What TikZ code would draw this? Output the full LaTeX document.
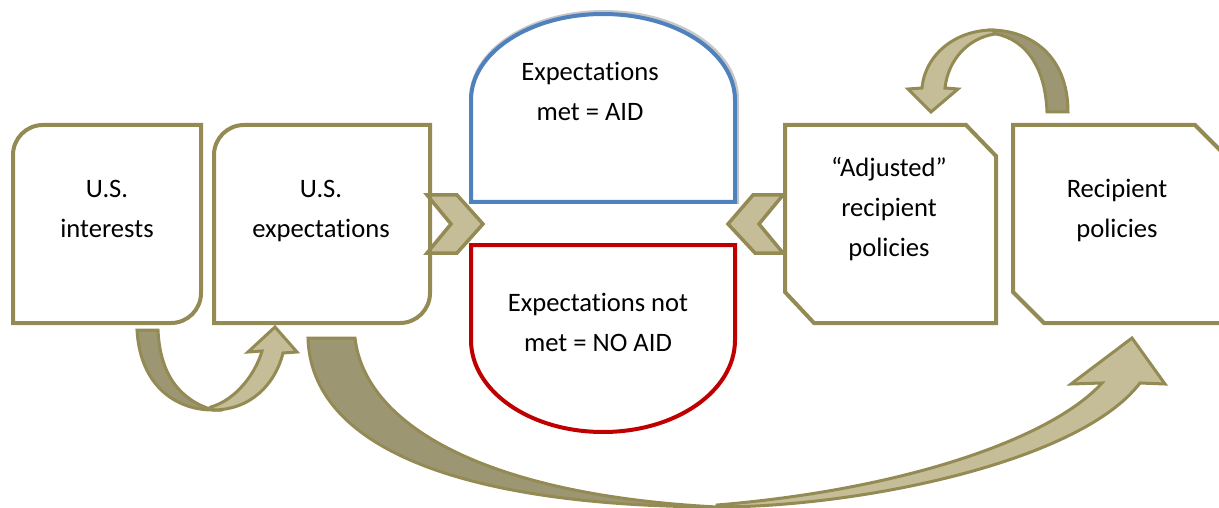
\documentclass[tikz,border=0pt]{standalone}
\usepackage{fontspec}
\setmainfont{Carlito}[Ligatures={NoCommon,NoRare,NoContextual}]
\definecolor{olive}{HTML}{948A54}
\definecolor{lightfill}{HTML}{C4BD97}
\definecolor{darkfill}{HTML}{9D9673}
\definecolor{bluebox}{HTML}{4F81BD}
\definecolor{redbox}{HTML}{C00000}
\definecolor{shadowgray}{HTML}{C8C8C8}
\begin{document}
\begin{tikzpicture}[x=1pt,y=-1pt,
  boxline/.style={draw=olive,line width=4pt,line join=miter,fill=white},
  darkarrow/.style={draw=olive,line width=3pt,fill=darkfill,line join=miter},
  lightarrow/.style={draw=olive,line width=3pt,fill=lightfill,line join=miter},
  chev/.style={draw=olive,line width=3.5pt,fill=lightfill,line join=miter},
  txt/.style={font=\fontsize{26.6}{40}\selectfont,align=center,inner sep=0pt,text=black}]
\useasboundingbox (0,0) rectangle (1219,508);
\clip (0,0) rectangle (1219,508);

% big curved arrow (U.S. expectations -> Recipient policies)
\draw[darkarrow] (308,338) .. controls (311,445) and (455,506) .. (717,507)
  .. controls (485,495) and (365,425) .. (355,338) -- cycle;
\draw[lightarrow] (717,505) .. controls (900,490) and (1050,440) .. (1102,383)
  -- (1071,384) -- (1132,338) -- (1165,384) -- (1140,383)
  .. controls (1080,462) and (860,507) .. (717,507) -- cycle;

% small curved arrow (U.S. interests -> U.S. expectations)
\draw[darkarrow] (137,330) .. controls (140,385) and (175,410) .. (213,410)
  .. controls (180,400) and (160,375) .. (158,330) -- cycle;
\draw[lightarrow] (211,407) .. controls (235,400) and (255,375) .. (262,351)
  -- (248,352) -- (275,327) -- (297,352) -- (283,353)
  .. controls (275,385) and (250,410) .. (213,410) -- cycle;

% top curved arrow (Recipient policies -> Adjusted)
\draw[darkarrow] (1047,112) .. controls (1045,60) and (1020,36) .. (990,33)
  -- (990,30) .. controls (1030,30) and (1068,55) .. (1068,112) -- cycle;
\draw[lightarrow] (993,30) .. controls (955,30) and (925,55) .. (922,88)
  -- (908,89) -- (931,112) -- (958,89) -- (945,88)
  .. controls (948,60) and (968,38) .. (995,34) -- cycle;

% boxes
\draw[boxline] (13,323) -- (13,155) .. controls (13,138.4) and (26.4,125) .. (43,125)
  -- (201,125) -- (201,293) .. controls (201,309.6) and (187.6,323) .. (171,323) -- cycle;
\draw[boxline] (214,323) -- (214,155) .. controls (214,138.4) and (227.4,125) .. (244,125)
  -- (430,125) -- (430,293) .. controls (430,309.6) and (416.6,323) .. (400,323) -- cycle;
\draw[boxline] (785,125) -- (966,125) -- (996,156) -- (996,323) -- (814,323) -- (785,292) -- cycle;
\draw[boxline] (1013,125) -- (1195,125) -- (1226,156) -- (1226,323) -- (1044,323) -- (1013,292) -- cycle;

% blue dome
\draw[shadowgray,line width=6pt] (472,201) -- (472,99) .. controls (472,51) and (531,13) .. (604,13)
  .. controls (677,13) and (736,51) .. (736,99) -- (736,201) -- cycle;
\draw[draw=bluebox,line width=4pt,fill=white] (471,202) -- (471,100) .. controls (471,52.5) and (530,14) .. (603,14)
  .. controls (676,14) and (735,52.5) .. (735,100) -- (735,202) -- cycle;
% red dome
\draw[draw=redbox,line width=4pt,fill=white] (471,245) -- (735,245) -- (735,340)
  .. controls (735,391) and (676,432) .. (603,432) .. controls (530,432) and (471,391) .. (471,340) -- cycle;

% chevrons
\draw[chev] (427,195) -- (457,195) -- (483,224) -- (457,253) -- (427,253) -- (451,224) -- cycle;
\draw[chev] (783,195) -- (753,195) -- (728,224) -- (755,253) -- (783,253) -- (759,224) -- cycle;
\draw[draw=olive,line width=4pt] (430,190) -- (430,258);
\draw[draw=olive,line width=4pt] (785,190) -- (785,258);

% texts
\node[txt] (usint) at (107,209) {\strut U.S.\\\strut interests};
\node[txt] (usexp) at (321,209) {\strut U.S.\\\strut expectations};
\node[txt] (met) at (590,93) {\strut Expectations\\\strut met = AID};
\node[txt] (notmet) at (598,323) {\strut Expectations not\\\strut met = NO AID};
\node[txt] (adj) at (889,208) {\strut “Adjusted”\\\strut recipient\\\strut policies};
\node[txt] (recip) at (1117,209) {\strut Recipient\\\strut policies};
\end{tikzpicture}
\end{document}
